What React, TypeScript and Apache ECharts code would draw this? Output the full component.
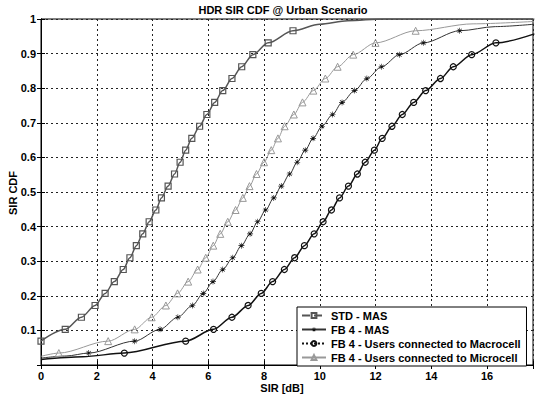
import React, { useEffect, useRef } from "react";
import * as echarts from "echarts";

// ---- data ----
const SERIES_NAMES = [
  "STD - MAS",
  "FB 4 - MAS",
  "FB 4 - Users connected to Macrocell",
  "FB 4 - Users connected to Microcell",
];

// STD - MAS (square markers)
const STD_X = [0, 0.87, 1.45, 1.94, 2.3, 2.63, 2.95, 3.19, 3.42, 3.65, 3.88, 4.12, 4.32, 4.56, 4.79, 4.99, 5.19, 5.41, 5.69, 5.95, 6.23, 6.52, 6.85, 7.2, 7.6, 8.15, 9.04];
const STD_Y = [0.069, 0.103, 0.138, 0.172, 0.207, 0.241, 0.276, 0.31, 0.345, 0.379, 0.414, 0.448, 0.483, 0.517, 0.552, 0.586, 0.621, 0.655, 0.69, 0.724, 0.759, 0.793, 0.828, 0.862, 0.897, 0.931, 0.966];
const STD_TAIL_X = [10.0, 11.0, 12.3, 17.7];
const STD_TAIL_Y = [0.985, 0.995, 1.0, 1.0];

// FB 4 - MAS (asterisk markers)
const MAS_HEAD_X = [0, 0.9];
const MAS_HEAD_Y = [0.02, 0.026];
const MAS_X = [1.71, 3.36, 4.27, 4.91, 5.43, 5.82, 6.17, 6.52, 6.88, 7.19, 7.5, 7.77, 8.06, 8.35, 8.62, 8.92, 9.19, 9.48, 9.76, 10.08, 10.46, 10.8, 11.25, 11.69, 12.22, 12.86, 13.72, 15.02];
const MAS_Y = [0.0345, 0.069, 0.103, 0.138, 0.172, 0.207, 0.241, 0.276, 0.31, 0.345, 0.379, 0.414, 0.448, 0.483, 0.517, 0.552, 0.586, 0.621, 0.655, 0.69, 0.724, 0.759, 0.793, 0.828, 0.862, 0.897, 0.931, 0.966];
const MAS_TAIL_X = [16.3, 17.7];
const MAS_TAIL_Y = [0.978, 0.985];

// FB 4 - Macrocell users (circle markers)
const MACRO_HEAD_X = [0, 1.5];
const MACRO_HEAD_Y = [0.016, 0.024];
const MACRO_X = [2.99, 5.19, 6.19, 6.85, 7.43, 7.9, 8.31, 8.73, 9.1, 9.45, 9.8, 10.12, 10.42, 10.71, 11.03, 11.35, 11.63, 11.96, 12.24, 12.59, 12.96, 13.37, 13.8, 14.33, 14.79, 15.45, 16.32];
const MACRO_Y = [0.0345, 0.069, 0.103, 0.138, 0.172, 0.207, 0.241, 0.276, 0.31, 0.345, 0.379, 0.414, 0.448, 0.483, 0.517, 0.552, 0.586, 0.621, 0.655, 0.69, 0.724, 0.759, 0.793, 0.828, 0.862, 0.897, 0.931];
const MACRO_TAIL_X = [17.7];
const MACRO_TAIL_Y = [0.957];

// FB 4 - Microcell users (triangle markers)
const MICRO_HEAD_X = [0];
const MICRO_HEAD_Y = [0.025];
const MICRO_X = [0.64, 2.41, 3.36, 3.97, 4.48, 4.9, 5.28, 5.62, 5.91, 6.18, 6.43, 6.7, 6.98, 7.24, 7.48, 7.73, 8.0, 8.26, 8.5, 8.74, 9.07, 9.38, 9.77, 10.2, 10.64, 11.2, 12.0, 13.44];
const MICRO_Y = [0.0345, 0.069, 0.103, 0.138, 0.172, 0.207, 0.241, 0.276, 0.31, 0.345, 0.379, 0.414, 0.448, 0.483, 0.517, 0.552, 0.586, 0.621, 0.655, 0.69, 0.724, 0.759, 0.793, 0.828, 0.862, 0.897, 0.931, 0.966];
const MICRO_TAIL_X = [15.5, 17.7];
const MICRO_TAIL_Y = [0.986, 0.993];

const X_MIN = 0;
const X_MAX = 17.65;
const X_INTERVAL = 2;
const Y_MIN = 0;
const Y_MAX = 1;
const Y_INTERVAL = 0.1;

const FONT = '"Liberation Sans", Arial, Helvetica, sans-serif';
const ASTERISK =
  "path://M4.5 0 L5.5 0 L5.5 10 L4.5 10 Z M0 4.5 L10 4.5 L10 5.5 L0 5.5 Z M1.2 1.9 L1.9 1.2 L8.8 8.1 L8.1 8.8 Z M8.1 1.2 L8.8 1.9 L1.9 8.8 L1.2 8.1 Z";

function build(
  headX: number[],
  headY: number[],
  mx: number[],
  my: number[],
  tailX: number[],
  tailY: number[]
) {
  const out: any[] = [];
  headX.forEach((x, i) => out.push({ value: [x, headY[i]], symbol: "none" }));
  mx.forEach((x, i) => out.push({ value: [x, my[i]] }));
  tailX.forEach((x, i) => out.push({ value: [x, tailY[i]], symbol: "none" }));
  return out;
}

export default function App() {
  const ref = useRef<HTMLDivElement>(null);
  useEffect(() => {
    if (!ref.current) return;
    const chart = echarts.init(ref.current, undefined, { renderer: "svg" });
    const hollow = "rgba(255,255,255,0)";
    const axisCommon = {
      axisLine: { show: true, lineStyle: { color: "#000", width: 1 } },
      axisTick: { show: true, inside: true, length: 4, lineStyle: { color: "#000" } },
    };
    chart.setOption({
      animation: false,
      backgroundColor: "#fff",
      grid: {
        left: 41,
        right: 1,
        top: 19,
        bottom: 34,
        show: true,
        borderColor: "#000",
        borderWidth: 1,
        backgroundColor: "#fff",
      },
      xAxis: [
        {
          type: "value",
          min: X_MIN,
          max: X_MAX,
          interval: X_INTERVAL,
          ...axisCommon,
          axisLabel: {
            margin: 5,
            color: "#000",
            fontSize: 11,
            fontWeight: "bold",
            fontFamily: FONT,
            formatter: (v: number) => (Math.abs(v % X_INTERVAL) < 1e-6 ? String(v) : ""),
          },
          splitLine: { show: true, lineStyle: { color: "#222", type: [2, 3], width: 1 } },
        },
        {
          type: "value",
          position: "top",
          min: X_MIN,
          max: X_MAX,
          interval: X_INTERVAL,
          ...axisCommon,
          axisLabel: { show: false },
          splitLine: { show: false },
        },
      ],
      yAxis: [
        {
          type: "value",
          min: Y_MIN,
          max: Y_MAX,
          interval: Y_INTERVAL,
          ...axisCommon,
          axisLabel: {
            margin: 5,
            color: "#000",
            fontSize: 11,
            fontWeight: "bold",
            fontFamily: FONT,
            formatter: (v: number) => (v === 0 ? "" : String(Math.round(v * 10) / 10)),
          },
          splitLine: { show: true, lineStyle: { color: "#222", type: [2, 3], width: 1 } },
        },
        {
          type: "value",
          position: "right",
          min: Y_MIN,
          max: Y_MAX,
          interval: Y_INTERVAL,
          ...axisCommon,
          axisLabel: { show: false },
          splitLine: { show: false },
        },
      ],
      legend: {
        orient: "vertical",
        left: 297,
        top: 307,
        itemWidth: 24,
        itemHeight: 6,
        itemGap: 1,
        padding: [2, 6, 2, 4],
        backgroundColor: "#fff",
        borderColor: "#000",
        borderWidth: 1,
        borderRadius: 0,
        textStyle: { fontSize: 11, fontWeight: "bold", color: "#000", fontFamily: FONT, lineHeight: 13 },
        data: [
          { name: SERIES_NAMES[0], lineStyle: { type: "dashed" } },
          { name: SERIES_NAMES[1] },
          { name: SERIES_NAMES[2], lineStyle: { type: "dotted" } },
          { name: SERIES_NAMES[3] },
        ],
      },
      graphic: [
        {
          type: "text",
          x: 283,
          y: 10,
          style: {
            text: "HDR SIR CDF @ Urban Scenario",
            fontSize: 11,
            fontWeight: "bold",
            fontFamily: FONT,
            fill: "#000",
            align: "center",
            verticalAlign: "middle",
            textAlign: "center",
            textVerticalAlign: "middle",
          },
        },
        {
          type: "text",
          x: 282,
          y: 388,
          style: {
            text: "SIR [dB]",
            fontSize: 11,
            fontWeight: "bold",
            fontFamily: FONT,
            fill: "#000",
            align: "center",
            verticalAlign: "middle",
            textAlign: "center",
            textVerticalAlign: "middle",
          },
        },
        {
          type: "text",
          x: 13,
          y: 193,
          rotation: Math.PI / 2,
          style: {
            text: "SIR CDF",
            fontSize: 11,
            fontWeight: "bold",
            fontFamily: FONT,
            fill: "#000",
            align: "center",
            verticalAlign: "middle",
            textAlign: "center",
            textVerticalAlign: "middle",
          },
        },
      ],
      series: [
        {
          name: SERIES_NAMES[0],
          type: "line",
          smooth: 0.3,
          smoothMonotone: "x",
          symbol: "rect",
          symbolSize: 6,
          showSymbol: true,
          lineStyle: { color: "#555", width: 1.5 },
          itemStyle: { color: hollow, borderColor: "#555", borderWidth: 1.2 },
          data: build([], [], STD_X, STD_Y, STD_TAIL_X, STD_TAIL_Y),
        },
        {
          name: SERIES_NAMES[1],
          type: "line",
          smooth: 0.3,
          smoothMonotone: "x",
          symbol: ASTERISK,
          symbolSize: 6,
          showSymbol: true,
          lineStyle: { color: "#333", width: 1 },
          itemStyle: { color: "#111" },
          data: build(MAS_HEAD_X, MAS_HEAD_Y, MAS_X, MAS_Y, MAS_TAIL_X, MAS_TAIL_Y),
        },
        {
          name: SERIES_NAMES[2],
          type: "line",
          smooth: 0.3,
          smoothMonotone: "x",
          symbol: "circle",
          symbolSize: 6,
          showSymbol: true,
          lineStyle: { color: "#111", width: 1.5 },
          itemStyle: { color: hollow, borderColor: "#111", borderWidth: 1.2 },
          data: build(MACRO_HEAD_X, MACRO_HEAD_Y, MACRO_X, MACRO_Y, MACRO_TAIL_X, MACRO_TAIL_Y),
        },
        {
          name: SERIES_NAMES[3],
          type: "line",
          smooth: 0.3,
          smoothMonotone: "x",
          symbol: "triangle",
          symbolSize: 7,
          showSymbol: true,
          lineStyle: { color: "#999", width: 1 },
          itemStyle: { color: hollow, borderColor: "#999", borderWidth: 1 },
          data: build(MICRO_HEAD_X, MICRO_HEAD_Y, MICRO_X, MICRO_Y, MICRO_TAIL_X, MICRO_TAIL_Y),
        },
      ],
    });
    return () => chart.dispose();
  }, []);
  return (
    <div
      ref={ref}
      style={{ position: "fixed", left: 0, top: 0, width: 536, height: 399, background: "#fff" }}
    />
  );
}
